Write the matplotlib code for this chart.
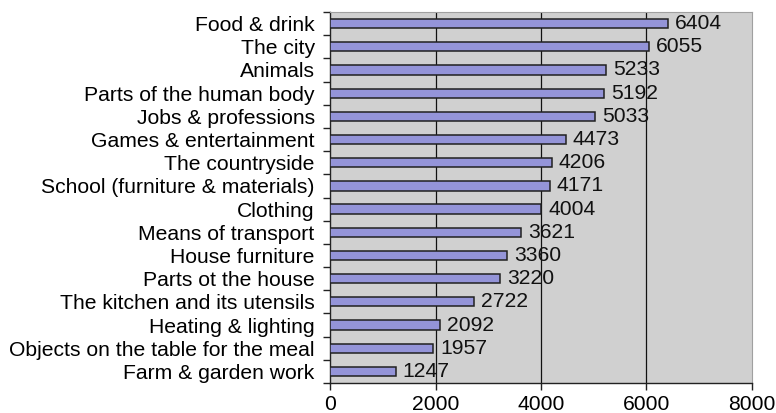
import matplotlib.pyplot as plt
import numpy as np

categories = ['Food & drink', 'The city', 'Animals', 'Parts of the human body',
              'Jobs & professions', 'Games & entertainment', 'The countryside',
              'School (furniture & materials)', 'Clothing', 'Means of transport',
              'House furniture', 'Parts ot the house', 'The kitchen and its utensils',
              'Heating & lighting', 'Objects on the table for the meal',
              'Farm & garden work']
counts = [6404, 6055, 5233, 5192, 5033, 4473, 4206, 4171, 4004, 3621,
          3360, 3220, 2722, 2092, 1957, 1247]
xticks = [0, 2000, 4000, 6000, 8000]

plt.rcParams['font.family'] = ['Liberation Sans', 'DejaVu Sans']
fs = 15.2

fig = plt.figure(figsize=(7.76, 4.13), dpi=100)
ax = fig.add_axes([330 / 776, 1 - 383 / 413, 422 / 776, 371 / 413])
ax.set_facecolor('#d0d0d0')

y = np.arange(len(categories))
ax.barh(y, counts, height=0.4, color='#9494d8', edgecolor='#202020',
        linewidth=1.1, zorder=3)

# gridlines only at the inner ticks
for xv in xticks[1:-1]:
    ax.axvline(xv, color='#111111', linewidth=0.9, zorder=1)

for yi, v in zip(y, counts):
    ax.annotate(str(v), xy=(v, yi), xytext=(5, 0), textcoords='offset points',
                va='center', ha='left', fontsize=fs, color='#111111', zorder=4)

ax.set_xlim(0, 8000)
ax.set_ylim(len(categories) - 0.5, -0.5)
ax.set_xticks(xticks)
ax.set_xticklabels([str(t) for t in xticks], fontsize=fs)
ax.set_yticks(y)
ax.set_yticklabels(categories, fontsize=fs)
ax.set_yticks(np.arange(len(categories) + 1) - 0.5, minor=True)

ax.tick_params(axis='y', which='major', length=0, pad=11)
ax.tick_params(axis='y', which='minor', length=5, width=1, color='#222222')
ax.tick_params(axis='x', length=5, width=1, color='#222222', pad=4)

for side in ['top', 'right']:
    ax.spines[side].set_color('#a0a0a0')
for side in ['left', 'bottom']:
    ax.spines[side].set_color('#222222')
    ax.spines[side].set_linewidth(1.0)

fig.savefig('out.png', dpi=100)
